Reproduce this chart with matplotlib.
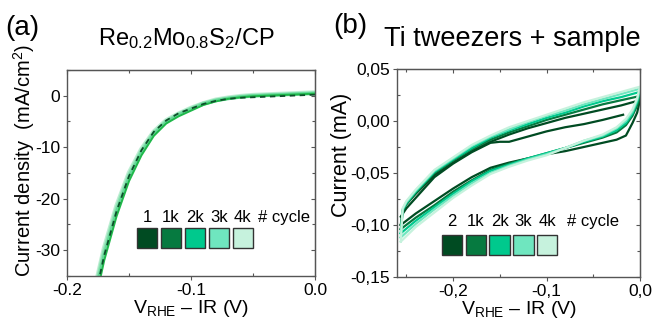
import numpy as np
import matplotlib
matplotlib.use("Agg")
import matplotlib.pyplot as plt
from matplotlib.patches import Rectangle
from matplotlib.ticker import MultipleLocator, FuncFormatter

plt.rcParams["font.family"] = ["Liberation Sans", "DejaVu Sans"]
plt.rcParams["mathtext.fontset"] = "custom"
plt.rcParams["mathtext.rm"] = "Liberation Sans"
plt.rcParams["mathtext.it"] = "Liberation Sans:italic"
plt.rcParams["axes.unicode_minus"] = False

# colours of the cycles (dark -> light)
cols = ["#004b22", "#067a40", "#00c98d", "#6fe6bf", "#c6f2dd"]

# ---- (a) LSV data, Re0.2Mo0.8S2/CP
v_lsv = [0.0, -0.01, -0.02, -0.03, -0.04, -0.05, -0.06, -0.07, -0.08, -0.09,
         -0.10, -0.11, -0.12, -0.13, -0.14, -0.15, -0.16, -0.17, -0.18]
j_c1 = [0.2, 0.1, 0.0, -0.1, -0.2, -0.3, -0.4, -0.6, -1.0, -1.6,
        -2.5, -3.4, -4.8, -7.0, -10.6, -15.6, -22.4, -31.0, -42.0]
j_1k = [0.4, 0.3, 0.2, 0.1, 0.0, -0.1, -0.3, -0.6, -1.1, -1.8,
        -2.9, -4.0, -5.4, -7.8, -11.6, -16.6, -23.4, -32.0, -43.0]
j_2k = [0.5, 0.4, 0.3, 0.2, 0.1, 0.0, -0.2, -0.5, -0.9, -1.6,
        -2.6, -3.7, -5.1, -7.4, -11.0, -15.8, -22.4, -30.8, -41.0]
j_3k = [0.5, 0.4, 0.3, 0.2, 0.1, 0.0, -0.2, -0.5, -0.9, -1.5,
        -2.5, -3.6, -5.0, -7.2, -10.7, -15.4, -21.9, -30.2, -40.5]
j_4k = [0.6, 0.5, 0.4, 0.3, 0.2, 0.1, -0.1, -0.4, -0.8, -1.5,
        -2.4, -3.5, -4.8, -7.0, -10.4, -15.0, -21.4, -29.6, -40.0]

# ---- (b) CV data, Ti tweezers + sample
v_up = [-0.256, -0.254, -0.25, -0.24, -0.22, -0.20, -0.18, -0.16,
        -0.14, -0.12, -0.10, -0.08, -0.06, -0.04, -0.02, 0.0]
v_lo = [0.0, -0.003, -0.008, -0.015, -0.025, -0.04, -0.06, -0.08, -0.10,
        -0.12, -0.14, -0.16, -0.18, -0.20, -0.22, -0.24, -0.256]

up_2 = [-0.100, -0.086, -0.080, -0.070, -0.052, -0.040, -0.029, -0.020,
        -0.013, -0.007, -0.002, 0.003, 0.007, 0.011, 0.015, 0.020]
lo_2 = [0.020, 0.008, -0.002, -0.014, -0.018, -0.021, -0.025, -0.029, -0.032,
        -0.036, -0.040, -0.045, -0.054, -0.065, -0.077, -0.089, -0.100]
inner_v2 = [-0.256, -0.25, -0.24, -0.22, -0.20, -0.18, -0.16, -0.15, -0.14,
            -0.12, -0.10, -0.08, -0.06, -0.04, -0.018]
inner_i2 = [-0.092, -0.084, -0.074, -0.054, -0.041, -0.030, -0.021, -0.020, -0.020,
            -0.015, -0.010, -0.006, -0.003, 0.001, 0.006]

up_1k = [-0.104, -0.087, -0.080, -0.069, -0.050, -0.038, -0.027, -0.018,
         -0.011, -0.005, 0.001, 0.006, 0.011, 0.016, 0.020, 0.024]
lo_1k = [0.024, 0.015, 0.005, -0.004, -0.011, -0.016, -0.021, -0.026, -0.031,
         -0.036, -0.041, -0.047, -0.057, -0.068, -0.081, -0.093, -0.104]
up_2k = [-0.108, -0.086, -0.079, -0.068, -0.049, -0.037, -0.026, -0.016,
         -0.009, -0.003, 0.003, 0.008, 0.014, 0.019, 0.023, 0.028]
lo_2k = [0.028, 0.018, 0.007, -0.002, -0.009, -0.015, -0.020, -0.026, -0.031,
         -0.036, -0.042, -0.048, -0.058, -0.070, -0.083, -0.096, -0.108]
up_3k = [-0.112, -0.085, -0.078, -0.067, -0.048, -0.036, -0.024, -0.015,
         -0.008, -0.001, 0.005, 0.010, 0.016, 0.021, 0.026, 0.031]
lo_3k = [0.031, 0.020, 0.009, 0.000, -0.007, -0.014, -0.019, -0.026, -0.032,
         -0.037, -0.043, -0.050, -0.060, -0.072, -0.085, -0.099, -0.112]
up_4k = [-0.116, -0.084, -0.077, -0.066, -0.047, -0.035, -0.023, -0.014,
         -0.006, 0.000, 0.006, 0.012, 0.018, 0.023, 0.028, 0.033]
lo_4k = [0.033, 0.022, 0.011, 0.002, -0.006, -0.013, -0.019, -0.026, -0.033,
         -0.038, -0.044, -0.051, -0.062, -0.074, -0.088, -0.102, -0.116]

labels_a = ["1", "1k", "2k", "3k", "4k"]
labels_b = ["2", "1k", "2k", "3k", "4k"]

fig = plt.figure(figsize=(6.53, 3.27), dpi=100)
axA = fig.add_axes([0.1026, 0.156, 0.3798, 0.630])
axB = fig.add_axes([0.608, 0.153, 0.372, 0.636])


def style(ax, xmaj, xmin, ymaj, ymin):
    for s in ax.spines.values():
        s.set_color("#555555")
        s.set_linewidth(1.0)
    ax.xaxis.set_major_locator(MultipleLocator(xmaj))
    ax.xaxis.set_minor_locator(MultipleLocator(xmin))
    ax.yaxis.set_major_locator(MultipleLocator(ymaj))
    ax.yaxis.set_minor_locator(MultipleLocator(ymin))
    ax.tick_params(which="major", direction="out", length=3, width=0.8,
                   color="#555555", labelsize=12.5, pad=2)
    ax.tick_params(which="minor", direction="in", length=2, width=0.8,
                   color="#555555")
    top = ax.secondary_xaxis("top")
    right = ax.secondary_yaxis("right")
    top.xaxis.set_major_locator(MultipleLocator(xmaj))
    top.xaxis.set_minor_locator(MultipleLocator(xmin))
    right.yaxis.set_major_locator(MultipleLocator(ymaj))
    right.yaxis.set_minor_locator(MultipleLocator(ymin))
    for sec in (top, right):
        sec.tick_params(which="major", direction="in", length=3, width=0.8,
                        color="#555555", labelleft=False, labelright=False,
                        labeltop=False, labelbottom=False)
        sec.tick_params(which="minor", direction="in", length=2, width=0.8,
                        color="#555555")
        for s in sec.spines.values():
            s.set_color("#555555")


def legend_boxes(ax, labels, x0, step, w, yb, h, ylab, xcyc):
    for k, lab in enumerate(labels):
        ax.add_patch(Rectangle((x0 + k * step, yb), w, h, transform=ax.transAxes,
                               facecolor=cols[k], edgecolor="#333333", lw=1.0,
                               zorder=5))
        ax.text(x0 + k * step + w / 2, ylab, lab, transform=ax.transAxes,
                ha="center", va="center", fontsize=12, zorder=5)
    ax.text(xcyc, ylab, "# cycle", transform=ax.transAxes, ha="left",
            va="center", fontsize=12, zorder=5)


# ---------- panel (a)
axA.plot(v_lsv, j_4k, color="#bdeed3", lw=3.4)
axA.plot(v_lsv, j_3k, color="#8fe2b3", lw=2.8)
axA.plot(v_lsv, j_2k, color="#62d896", lw=2.1)
axA.plot(v_lsv, j_1k, color="#1fb84a", lw=1.4)
axA.plot(v_lsv, j_c1, color="#0d4f2a", lw=1.3, ls=(0, (3, 2.5)))
axA.set_xlim(-0.2, 0.0)
axA.set_ylim(-35, 5)
style(axA, 0.1, 0.05, 10, 5)
axA.xaxis.set_major_formatter(FuncFormatter(lambda v, p: f"{v:.1f}" if abs(v) > 1e-9 else "0.0"))
axA.yaxis.set_major_formatter(FuncFormatter(lambda v, p: f"{v:.0f}" if abs(v) > 1e-9 else "0"))
axA.set_xlabel("V$_{\\mathregular{RHE}}$ – IR (V)", fontsize=14, labelpad=0)
axA.set_ylabel("Current density  (mA/cm$^{\\mathregular{2}}$)", fontsize=14.5)
axA.yaxis.set_label_coords(-0.12, 0.558)
legend_boxes(axA, labels_a, 0.282, 0.0965, 0.0806, 0.136, 0.097, 0.286, 0.77)
fig.text(0.034, 0.915, "(a)", fontsize=20, ha="center", va="center")
fig.text(0.285, 0.882, "Re$_{\\mathregular{0.2}}$Mo$_{\\mathregular{0.8}}$S$_{\\mathregular{2}}$/CP",
         fontsize=17, ha="center", va="center")

# ---------- panel (b): dark cycle first, lighter cycles drawn over it
axB.plot(v_up + v_lo, up_2 + lo_2, color=cols[0], lw=1.6)
axB.plot(inner_v2, inner_i2, color=cols[0], lw=1.6)
cv_sets = [(up_1k, lo_1k, cols[1]), (up_2k, lo_2k, cols[2]),
           (up_3k, lo_3k, cols[3]), (up_4k, lo_4k, cols[4])]
for up, lo, c in cv_sets:
    axB.plot(v_up + v_lo, up + lo, color=c, lw=1.6)
axB.set_xlim(-0.26, 0.0)
axB.set_ylim(-0.15, 0.05)
style(axB, 0.1, 0.05, 0.05, 0.025)
axB.xaxis.set_major_formatter(FuncFormatter(
    lambda v, p: (f"{v:.1f}" if abs(v) > 1e-9 else "0.0").replace(".", ",")))
axB.yaxis.set_major_formatter(FuncFormatter(
    lambda v, p: (f"{v:.2f}" if abs(v) > 1e-9 else "0.00").replace(".", ",")))
axB.set_xlabel("V$_{\\mathregular{RHE}}$ – IR (V)", fontsize=14, labelpad=0)
axB.set_ylabel("Current (mA)", fontsize=15.5)
axB.yaxis.set_label_coords(-0.185, 0.589)
legend_boxes(axB, labels_b, 0.184, 0.098, 0.084, 0.106, 0.096, 0.266, 0.698)
fig.text(0.537, 0.92, "(b)", fontsize=20, ha="center", va="center")
fig.text(0.784, 0.882, "Ti tweezers + sample", fontsize=19.5, ha="center", va="center")

fig.savefig("out.png", dpi=100)
